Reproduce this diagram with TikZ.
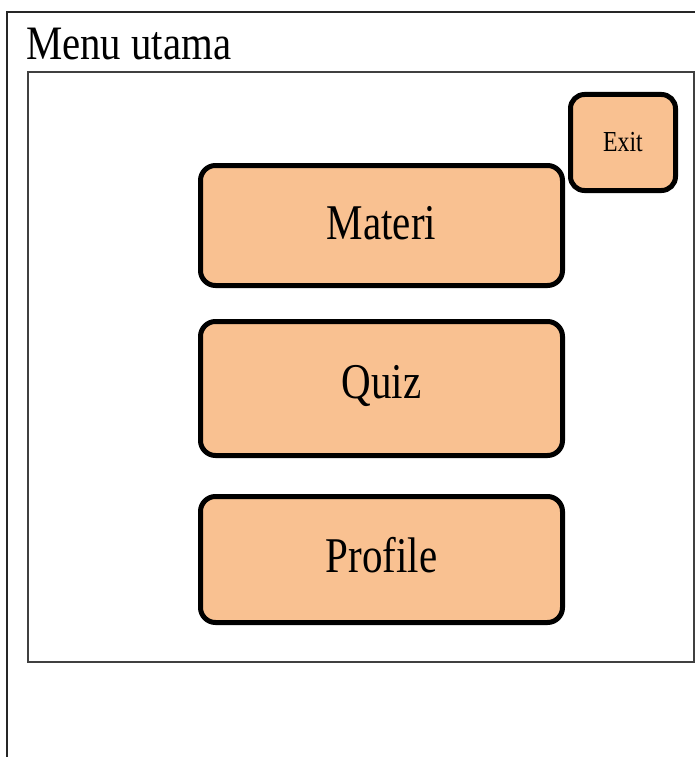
\documentclass[tikz,border=0pt]{standalone}
\usepackage{fontspec}
\usepackage{graphicx}
\setmainfont{Liberation Serif}
\definecolor{peach}{RGB}{249,193,145}
\newcommand{\narrow}[1]{\scalebox{0.82}[1]{#1}}

\begin{document}
\begin{tikzpicture}
  [x=1pt,y=-1pt,
   btn/.style={draw=black,line width=5pt,fill=peach,rounded corners=15pt,
     minimum width=362pt,minimum height=120pt,inner sep=0pt,
     text height=33pt,text depth=5pt,font=\fontsize{50}{50}\selectfont}]
  \useasboundingbox (0,0) rectangle (695,757);
  \draw[line width=2pt,black!85] (7,757) -- (7,12) -- (695,12);
  \draw[line width=1.5pt,black!75] (28,72) rectangle (694,662);
  \node[anchor=base west,inner sep=0pt,font=\fontsize{48}{48}\selectfont] (title) at (26,60) {\scalebox{0.85}[1]{Menu utama}};
  \node[btn] (materi) at (381.5,225.5) {\narrow{Materi}};
  \node[btn,minimum height=134pt,text depth=14pt] (quiz) at (381.5,388.5) {\narrow{Quiz}};
  \node[btn,minimum height=126pt,text depth=7pt] (profile) at (381.5,559.5) {\narrow{Profile}};
  \node[btn,minimum width=105pt,minimum height=96pt,rounded corners=14pt,
    text height=20pt,text depth=3pt,font=\fontsize{29}{29}\selectfont] (exit) at (623,142.5) {\narrow{Exit}};
\end{tikzpicture}
\end{document}
